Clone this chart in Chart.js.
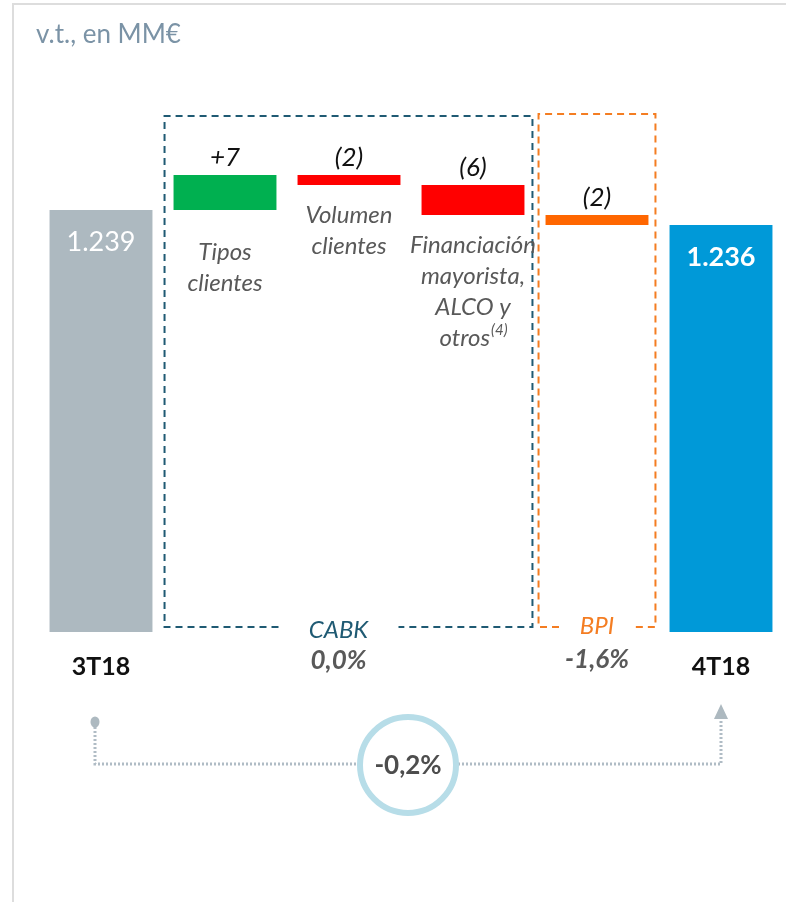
<!DOCTYPE html>
<html>
<head>
<meta charset="utf-8">
<script src="https://cdn.jsdelivr.net/npm/chart.js@4.4.1/dist/chart.umd.min.js"></script>
<style>
  html, body { margin: 0; background: #fff; }
  canvas { display: block; }
</style>
</head>
<body>
<canvas id="waterfall" width="786" height="902"></canvas>
<script>
// data
const categories = ['3T18', 'Tipos clientes', 'Volumen clientes', 'Financiación mayorista, ALCO y otros', 'BPI', '4T18'];
const categoryLines = [[], ['Tipos', 'clientes'], ['Volumen', 'clientes'], ['Financiación', 'mayorista,', 'ALCO y', 'otros'], [], []];
const startValue = 1239;
const changes = [7, -2, -6, -2];
const endValue = 1236;
const barColors = ['#adb9c0', '#00b050', '#ff0000', '#ff0000', '#ff6600', '#0099d8'];
const groupNames = ['CABK', 'BPI'];
const groupChanges = ['0,0%', '-1,6%'];
const totalChange = '-0,2%';

// broken axis: bars start well above zero
const yMin = 1154.6;
const yMax = 1259.6;
const FONT = 'Lato, "Open Sans", sans-serif';

// floating bars for the waterfall
let running = startValue;
const ranges = [[yMin, startValue]];
changes.forEach(c => {
    ranges.push([Math.min(running, running + c), Math.max(running, running + c)]);
    running += c;
});
ranges.push([yMin, endValue]);

const fmtTotal = v => String(v).replace(/\B(?=(\d{3})+(?!\d))/g, '.');
const fmtChange = v => v > 0 ? '+' + v : '(' + Math.abs(v) + ')';

function text(ctx, str, x, y, font, color, align = 'center', base = 'middle') {
    ctx.font = font;
    ctx.fillStyle = color;
    ctx.textAlign = align;
    ctx.textBaseline = base;
    ctx.fillText(str, x, y);
}

function dashedBox(ctx, l, t, r, b, color, gapCenter, gapHalf) {
    ctx.save();
    ctx.strokeStyle = color;
    ctx.lineWidth = 2;
    ctx.setLineDash([7, 5]);
    ctx.beginPath();
    ctx.moveTo(gapCenter - gapHalf, b);
    ctx.lineTo(l, b);
    ctx.lineTo(l, t);
    ctx.lineTo(r, t);
    ctx.lineTo(r, b);
    ctx.lineTo(gapCenter + gapHalf, b);
    ctx.stroke();
    ctx.restore();
}

const overlay = {
    id: 'overlay',
    beforeDraw(chart) {
        const ctx = chart.ctx;
        ctx.save();
        ctx.fillStyle = '#dddddd';
        ctx.fillRect(12, 3, chart.width - 12, 2);
        ctx.fillRect(12, 3, 2, chart.height - 3);
        text(ctx, 'v.t., en MM€', 36, 35, '26px ' + FONT, '#7b93a6', 'left');
        ctx.restore();
    },
    afterDatasetsDraw(chart) {
        const ctx = chart.ctx;
        const bars = chart.getDatasetMeta(0).data;
        const area = chart.chartArea;
        const bottom = area.bottom;
        ctx.save();

        // group boxes
        const half = bars[1].width / 2;
        const cabkL = bars[1].x - half - 9, cabkR = bars[3].x + half + 8;
        const cabkC = (cabkL + cabkR) / 2 - 10;
        dashedBox(ctx, cabkL, area.top + 9, cabkR, bottom - 5, '#1f5a73', cabkC, 60);
        const bpiL = bars[4].x - half - 7, bpiR = bars[4].x + half + 7;
        const bpiC = bars[4].x;
        dashedBox(ctx, bpiL, area.top + 7, bpiR, bottom - 5, '#f47d22', bpiC, 38);

        text(ctx, groupNames[0], cabkC, bottom - 2, 'italic 24px ' + FONT, '#1f5a73');
        text(ctx, groupChanges[0], cabkC, bottom + 29, 'italic bold 26px ' + FONT, '#595959');
        text(ctx, groupNames[1], bpiC, bottom - 6, 'italic 24px ' + FONT, '#f47d22');
        text(ctx, groupChanges[1], bpiC, bottom + 28, 'italic bold 26px ' + FONT, '#595959');

        // totals
        const first = bars[0], last = bars[bars.length - 1];
        text(ctx, fmtTotal(startValue), first.x, first.y + 32, '27px ' + FONT, '#ffffff');
        text(ctx, fmtTotal(endValue), last.x, last.y + 32, 'bold 27px ' + FONT, '#ffffff');
        text(ctx, categories[0], first.x, bottom + 35, 'bold 25px ' + FONT, '#111111');
        text(ctx, categories[5], last.x, bottom + 35, 'bold 25px ' + FONT, '#111111');

        // changes
        changes.forEach((c, i) => {
            const el = bars[i + 1];
            const top = Math.min(el.y, el.base);
            const bot = Math.max(el.y, el.base);
            text(ctx, fmtChange(c), el.x, top - 9, 'italic 26px ' + FONT, '#111111', 'center', 'alphabetic');
            const lines = categoryLines[i + 1];
            let y = bot + (i === 0 ? 42 : 30);
            lines.forEach(ln => {
                if (ln === 'otros') {
                    ctx.font = 'italic 24px ' + FONT;
                    const w1 = ctx.measureText(ln).width;
                    ctx.font = 'italic 15px ' + FONT;
                    const w2 = ctx.measureText('(4)').width;
                    const sx = el.x - (w1 + w2) / 2;
                    text(ctx, ln, sx, y, 'italic 24px ' + FONT, '#595959', 'left');
                    text(ctx, '(4)', sx + w1 + 1, y - 8, 'italic 15px ' + FONT, '#595959', 'left');
                } else {
                    text(ctx, ln, el.x, y, 'italic 24px ' + FONT, '#595959');
                }
                y += 31;
            });
        });

        // bottom connector
        const x0 = first.x - 6, x1 = last.x;
        const lineY = bottom + 132;
        const cx = (x0 + x1) / 2;
        ctx.strokeStyle = '#b0bcc5';
        ctx.lineWidth = 3;
        ctx.setLineDash([2, 2]);
        ctx.beginPath();
        ctx.moveTo(x0, bottom + 91);
        ctx.lineTo(x0, lineY);
        ctx.lineTo(x1, lineY);
        ctx.lineTo(x1, bottom + 86);
        ctx.stroke();
        ctx.setLineDash([]);
        ctx.fillStyle = '#adb9c0';
        ctx.beginPath();
        ctx.ellipse(x0, bottom + 90, 4.5, 5.5, 0, 0, Math.PI * 2);
        ctx.fill();
        ctx.beginPath();
        ctx.moveTo(x1, bottom + 72);
        ctx.lineTo(x1 - 7, bottom + 87);
        ctx.lineTo(x1 + 7, bottom + 87);
        ctx.closePath();
        ctx.fill();

        ctx.beginPath();
        ctx.arc(cx, lineY + 1, 48, 0, Math.PI * 2);
        ctx.fillStyle = '#ffffff';
        ctx.fill();
        ctx.lineWidth = 6;
        ctx.strokeStyle = '#b7dde8';
        ctx.stroke();
        text(ctx, totalChange, cx, lineY + 2, 'bold 26px ' + FONT, '#4d4d4d');

        ctx.restore();
    }
};

new Chart(document.getElementById('waterfall'), {
    type: 'bar',
    data: {
        labels: categories,
        datasets: [{
            data: ranges,
            backgroundColor: barColors,
            borderWidth: 0,
            categoryPercentage: 1,
            barPercentage: 0.83,
        }],
    },
    options: {
        responsive: false,
        animation: false,
        layout: { padding: { left: 39, right: 3, top: 107, bottom: 270 } },
        plugins: { legend: { display: false }, tooltip: { enabled: false } },
        scales: {
            x: { display: false },
            y: { display: false, min: yMin, max: yMax },
        },
    },
    plugins: [overlay],
});
</script>
</body>
</html>
